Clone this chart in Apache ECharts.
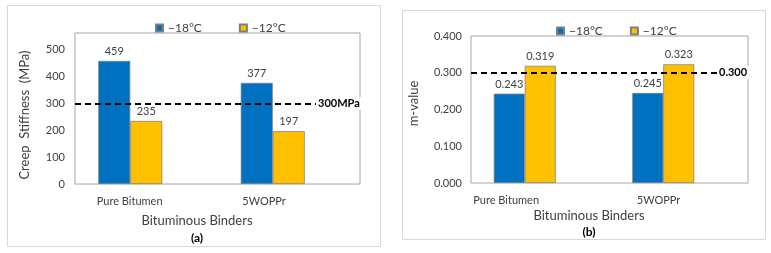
<!DOCTYPE html>
<html>
<head>
    <meta charset="utf-8">
    <title>index</title>
    <style>
        html, body { margin: 0; padding: 0; background: #fff; }
        #container { width: 771px; height: 253px; }
    </style>
</head>
<body>
    <div id="container"></div>
</body>
<script src="https://cdn.jsdelivr.net/npm/echarts@6/dist/echarts.min.js"></script>
<script type="text/javascript">
    // data
    var categories = ['Pure Bitumen', '5WOPPr'];
    var seriesNames = ['\u221218\u00b0C', '\u221212\u00b0C'];
    var stiffCold = [459, 377];      // -18°C
    var stiffWarm = [235, 197];      // -12°C
    var stiffLimit = 300;
    var mCold = [0.243, 0.245];
    var mWarm = [0.319, 0.323];
    var mLimit = 0.300;
    var stiffTicks = [0, 100, 200, 300, 400, 500];
    var mTicks = [0, 0.1, 0.2, 0.3, 0.4];

    var FONT = 'Lato';
    var blue = '#0070C0', yellow = '#FFC000';
    var txt = '#404040';

    var dom = document.getElementById('container');
    var myChart = echarts.init(dom, null, { renderer: 'canvas' });

    // per-category label widths (left-aligned inside a box centred on the category)
    function catLabel(widths) {
        return {
            margin: 12,
            color: txt,
            fontFamily: FONT,
            fontSize: 11,
            formatter: function (v, i) { return '{c' + i + '|' + v + '}'; },
            rich: {
                c0: { width: widths[0], align: 'left', fontFamily: FONT, fontSize: 11, color: txt },
                c1: { width: widths[1], align: 'left', fontFamily: FONT, fontSize: 11, color: txt }
            }
        };
    }

    function barSeries(name, data, color, idx, bw, fmt) {
        return {
            name: name,
            type: 'bar',
            xAxisIndex: idx,
            yAxisIndex: idx,
            data: data,
            barWidth: bw,
            barGap: 0,
            itemStyle: { color: color, borderColor: '#7f7f7f', borderWidth: 0.75 },
            label: {
                show: true,
                position: 'top',
                distance: 4,
                color: txt,
                fontFamily: FONT,
                fontSize: 11,
                formatter: fmt
            }
        };
    }

    // empty third slot (the limit series) with the dashed limit line
    function limitSeries(idx, bw, value, text, dist) {
        return {
            name: 'limit',
            type: 'bar',
            xAxisIndex: idx,
            yAxisIndex: idx,
            data: categories.map(function () { return null; }),
            barWidth: bw,
            barGap: 0,
            markLine: {
                silent: true,
                symbol: 'none',
                animation: false,
                lineStyle: { color: '#000', width: 1.8, type: [6, 4] },
                label: {
                    show: true,
                    position: 'end',
                    distance: dist,
                    formatter: text,
                    color: '#000',
                    fontWeight: 'bold',
                    fontFamily: FONT,
                    fontSize: 11,
                    backgroundColor: '#fff',
                    padding: [1, 2]
                },
                data: [{ yAxis: value }]
            }
        };
    }

    var option = {
        animation: false,
        textStyle: { fontFamily: FONT },
        graphic: [
            { type: 'rect', shape: { x: 7.5, y: 5.5, width: 373, height: 241 }, style: { fill: 'none', stroke: '#d9d9d9', lineWidth: 1 } },
            { type: 'rect', shape: { x: 402.5, y: 10.5, width: 363, height: 229 }, style: { fill: 'none', stroke: '#d9d9d9', lineWidth: 1 } },
            { type: 'text', x: 197, y: 221, style: { text: 'Bituminous Binders', fill: txt, font: '13px ' + FONT, align: 'center', verticalAlign: 'middle' } },
            { type: 'text', x: 197, y: 238, style: { text: '(a)', fill: '#000', font: 'bold 12px ' + FONT, align: 'center', verticalAlign: 'middle' } },
            { type: 'text', x: 589, y: 216, style: { text: 'Bituminous Binders', fill: txt, font: '13px ' + FONT, align: 'center', verticalAlign: 'middle' } },
            { type: 'text', x: 589, y: 232, style: { text: '(b)', fill: '#000', font: 'bold 12px ' + FONT, align: 'center', verticalAlign: 'middle' } }
        ],
        legend: [
            {
                left: 150, top: 17,
                icon: 'rect',
                itemWidth: 7, itemHeight: 7, itemGap: 37,
                data: seriesNames,
                textStyle: { color: txt, fontFamily: FONT, fontSize: 12 },
                selectedMode: false
            },
            {
                left: 551, top: 20,
                icon: 'rect',
                itemWidth: 7, itemHeight: 7, itemGap: 27,
                data: seriesNames,
                textStyle: { color: txt, fontFamily: FONT, fontSize: 12 },
                selectedMode: false
            }
        ],
        grid: [
            { left: 75, right: 411, top: 33, bottom: 69, show: true, borderColor: '#a6a6a6', borderWidth: 1, backgroundColor: 'transparent' },
            { left: 471, right: 23, top: 36, bottom: 70, show: true, borderColor: '#a6a6a6', borderWidth: 1, backgroundColor: 'transparent' }
        ],
        xAxis: [
            {
                type: 'category', gridIndex: 0, data: categories,
                axisLine: { show: false }, axisTick: { show: false },
                axisLabel: catLabel([99, 93])
            },
            {
                type: 'category', gridIndex: 1, data: categories,
                axisLine: { show: false }, axisTick: { show: false },
                axisLabel: catLabel([134, 84])
            }
        ],
        yAxis: [
            {
                type: 'value', gridIndex: 0,
                min: stiffTicks[0], max: 563, interval: stiffTicks[1] - stiffTicks[0],
                name: 'Creep  Stiffness  (MPa)', nameLocation: 'middle', nameGap: 44, nameRotate: 90,
                nameTextStyle: { color: txt, fontFamily: FONT, fontSize: 13, padding: [0, 13, 0, 0] },
                axisLine: { show: false }, axisTick: { show: false }, splitLine: { show: false },
                axisLabel: {
                    color: txt, fontFamily: FONT, fontSize: 11, margin: 10, showMaxLabel: false,
                    formatter: function (v) { return stiffTicks.indexOf(v) >= 0 ? String(v) : ''; }
                }
            },
            {
                type: 'value', gridIndex: 1,
                min: mTicks[0], max: mTicks[mTicks.length - 1], interval: 0.1,
                name: 'm-value', nameLocation: 'middle', nameGap: 51, nameRotate: 90,
                nameTextStyle: { color: txt, fontFamily: FONT, fontSize: 13, padding: [0, 0, 0, 12] },
                axisLine: { show: false }, axisTick: { show: false }, splitLine: { show: false },
                axisLabel: {
                    color: txt, fontFamily: FONT, fontSize: 11, margin: 9,
                    formatter: function (v) { return v.toFixed(3); }
                }
            }
        ],
        series: [
            barSeries(seriesNames[0], stiffCold, blue, 0, 32, '{c}'),
            barSeries(seriesNames[1], stiffWarm, yellow, 0, 32, '{c}'),
            limitSeries(0, 32, stiffLimit, '300MPa', -44),
            barSeries(seriesNames[0], mCold, blue, 1, 31, function (p) { return p.value.toFixed(3); }),
            barSeries(seriesNames[1], mWarm, yellow, 1, 31, function (p) { return p.value.toFixed(3); }),
            limitSeries(1, 31, mLimit, '0.300', -31)
        ]
    };

    myChart.setOption(option, true);
</script>
</html>
